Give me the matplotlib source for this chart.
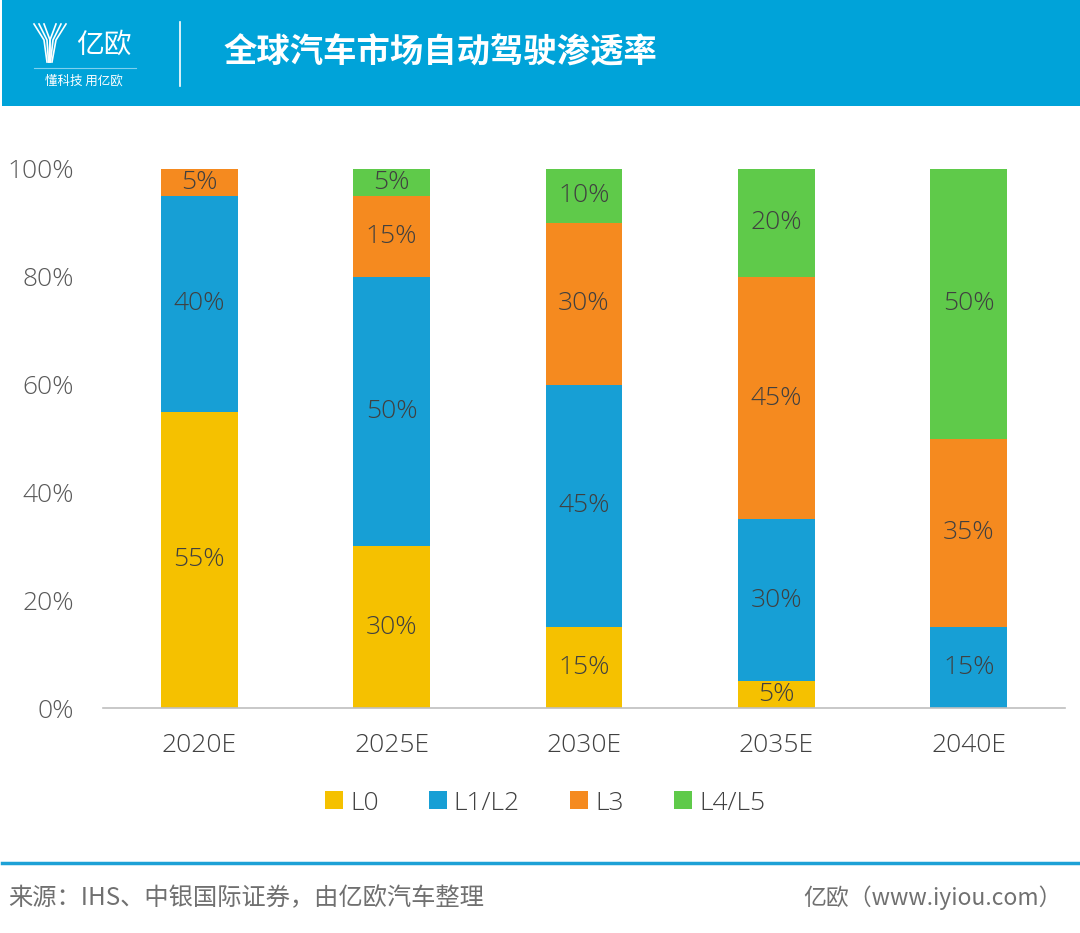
import numpy as np
import matplotlib.pyplot as plt
from matplotlib.patches import Rectangle
from matplotlib.lines import Line2D

# 数据
years = ["2020E", "2025E", "2030E", "2035E", "2040E"]
levels = ["L0", "L1/L2", "L3", "L4/L5"]
l0 = [55, 30, 15, 5, 0]
l12 = [40, 50, 45, 30, 15]
l3 = [5, 15, 30, 45, 35]
l45 = [0, 5, 10, 20, 50]
colors = ["#F5C100", "#179FD5", "#F58A1F", "#5FCA4A"]

title = "全球汽车市场自动驾驶渗透率"
source = "来源：IHS、中银国际证券，由亿欧汽车整理"
site = "亿欧（www.iyiou.com）"

plt.rcParams['font.family'] = ['Open Sans', 'Noto Sans CJK SC', 'DejaVu Sans']
plt.rcParams['font.weight'] = 'light'

W, H = 1080, 933
fig = plt.figure(figsize=(W / 100, H / 100), dpi=100)
fig.patch.set_facecolor("white")

def fx(px):
    return px / W

def fy(py):
    return 1 - py / H

# 顶部标题栏
fig.patches.append(Rectangle((fx(2), fy(106)), 1, 106 / H, transform=fig.transFigure,
                             facecolor="#00A3D9", edgecolor="none", zorder=0))
# logo 图标 (简化)
for dx in [0, 5, 10]:
    fig.lines.append(Line2D([fx(34 + dx), fx(44 + dx * 0.6), fx(47 + dx * 0.3)],
                            [fy(24), fy(40), fy(62)], transform=fig.transFigure,
                            color="white", lw=1.2))
    fig.lines.append(Line2D([fx(66 - dx), fx(56 - dx * 0.6), fx(52 - dx * 0.3)],
                            [fy(24), fy(40), fy(62)], transform=fig.transFigure,
                            color="white", lw=1.2))
fig.text(fx(76), fy(45), "亿欧", color="white", fontsize=20,
         family=['Noto Sans CJK SC'], va="center", ha="left")
fig.lines.append(Line2D([fx(34), fx(136)], [fy(68), fy(68)], transform=fig.transFigure,
                        color="#7FD0EE", lw=0.8))
fig.text(fx(45), fy(81), "懂科技 用亿欧", color="white", fontsize=9,
         family=['Noto Sans CJK SC'], va="center", ha="left")
fig.lines.append(Line2D([fx(180), fx(180)], [fy(22), fy(86)], transform=fig.transFigure,
                        color="white", lw=1.2))
fig.text(fx(224), fy(53), title, color="white", fontsize=24, fontweight="bold",
         family=['Noto Sans CJK SC'], va="center", ha="left")

# 主图
ax = fig.add_axes([fx(103), fy(708), fx(1065) - fx(103), fy(169) - fy(708)])
x = np.arange(len(years))
series = [l0, l12, l3, l45]
bottom = np.zeros(len(years))
for name, vals, c in zip(levels, series, colors):
    vals = np.array(vals, dtype=float)
    ax.bar(x, vals, 0.4, bottom=bottom, color=c, label=name, zorder=2)
    for xi, b, v in zip(x, bottom, vals):
        if v > 0:
            ax.text(xi, b + v / 2, f"{int(v)}%", ha="center", va="center",
                    fontsize=19, color="#404040", zorder=3)
    bottom += vals

ax.set_xlim(-0.5, len(years) - 0.5)
ax.set_ylim(0, 100)
ax.set_yticks(np.arange(0, 101, 20))
ax.set_yticklabels([f"{v}%" for v in range(0, 101, 20)], fontsize=19, color="#595959")
ax.set_xticks(x)
ax.set_xticklabels(years, fontsize=19, color="#404040")
ax.tick_params(axis="both", length=0)
ax.tick_params(axis="y", pad=21)
ax.tick_params(axis="x", pad=18)
for s in ["top", "right", "left"]:
    ax.spines[s].set_visible(False)
ax.spines["bottom"].set_color("#BFBFBF")
ax.spines["bottom"].set_linewidth(1.2)

leg = ax.legend(loc="center", bbox_to_anchor=((545 - 103) / 962, (fy(803) - fy(708)) / (fy(169) - fy(708))),
                ncol=4, frameon=False, fontsize=19, handlelength=0.68, handleheight=0.68,
                handletextpad=0.27, columnspacing=1.9)
for t in leg.get_texts():
    t.set_color("#404040")

# 底部
fig.lines.append(Line2D([fx(2), fx(1078)], [fy(863), fy(863)], transform=fig.transFigure,
                        color="#1DA1D6", lw=2.5))
fig.text(fx(8), fy(898), source, fontsize=17.5, color="#707070",
         family=['Noto Sans CJK SC'], va="center", ha="left")
fig.text(fx(1062), fy(898), site, fontsize=16.5, color="#707070",
         family=['Noto Sans CJK SC'], va="center", ha="right")

fig.savefig("out.png", dpi=100)
